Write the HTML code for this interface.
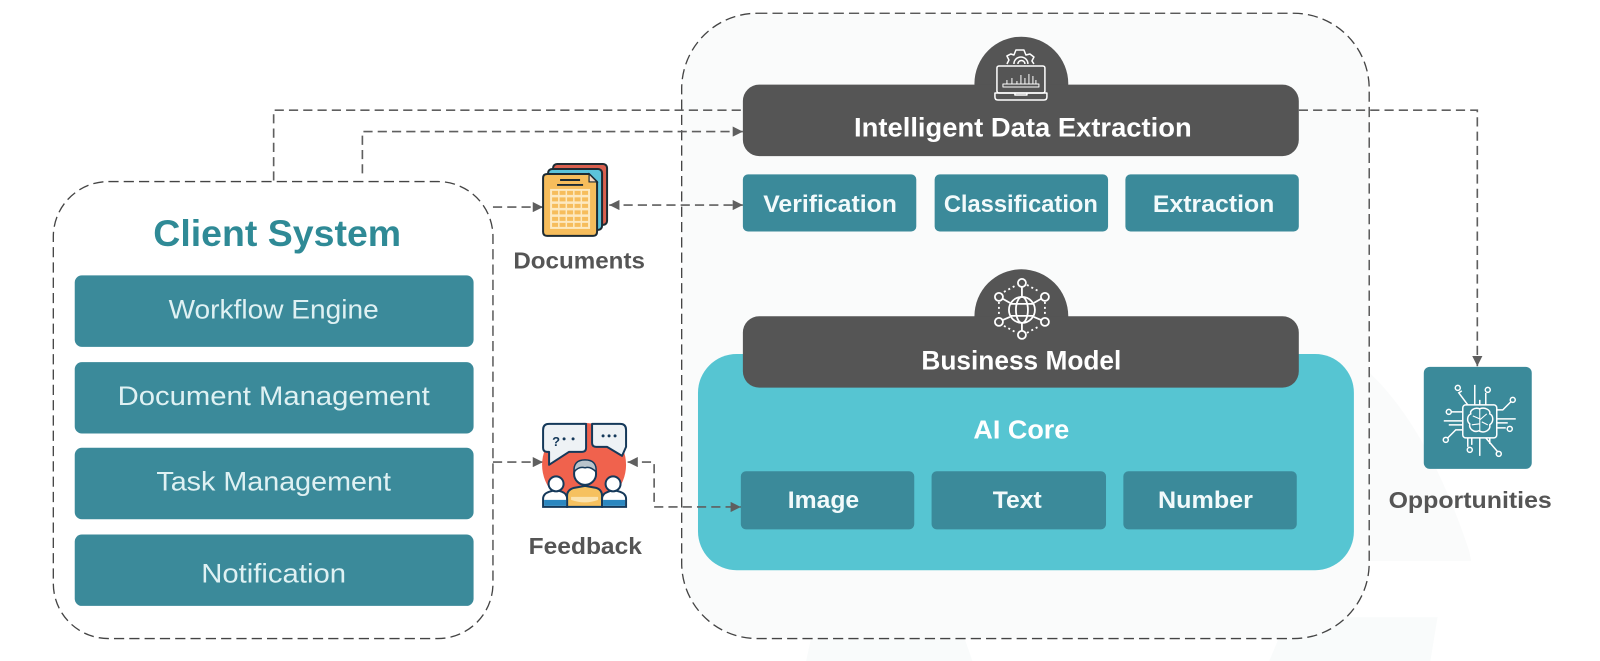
<!DOCTYPE html>
<html><head><meta charset="utf-8"><style>
html,body{margin:0;padding:0;background:#fff;width:1600px;height:661px;overflow:hidden}
svg{display:block}
text{font-family:"Liberation Sans",sans-serif}
.b{font-weight:700}
</style></head><body>
<svg width="1600" height="661" viewBox="0 0 1568 648" xmlns="http://www.w3.org/2000/svg">
<defs>
<marker id="a" viewBox="0 0 10 10" refX="10" refY="5" markerWidth="10" markerHeight="10" markerUnits="userSpaceOnUse" orient="auto-start-reverse"><path d="M0 0L10 5L0 10Z" fill="#5f5f5f"/></marker>
</defs>
<rect width="1568" height="648" fill="#fff"/>
<!-- faint background -->
<path d="M1342 365Q1400 420 1440 540L1442 550L1342 550Z" fill="#fafbfb"/>
<path d="M1244 648L1262 605H1409L1402 648Z" fill="#f9fbfb"/>
<path d="M790 648L795 625H945L953 648Z" fill="#f9fbfb"/>

<!-- containers -->
<rect x="668" y="13" width="674" height="613" rx="74" fill="#fafbfb" stroke="#444" stroke-width="1.300" stroke-dasharray="10 5"/>
<rect x="52" y="178" width="431" height="448" rx="54" fill="#fff" stroke="#444" stroke-width="1.300" stroke-dasharray="10 5"/>

<!-- connectors -->
<g fill="none" stroke="#5f5f5f" stroke-width="1.600" stroke-dasharray="9 5">
<path d="M268 177V108H728"/>
<path d="M355 170V129H728" marker-end="url(#a)"/>
<path d="M483 203H532" marker-end="url(#a)"/>
<path d="M597 201H728" marker-start="url(#a)" marker-end="url(#a)"/>
<path d="M483 453H532" marker-end="url(#a)"/>
<path d="M1273 108H1448V359" marker-end="url(#a)"/>
</g>

<!-- client system -->
<text x="150" y="241" font-size="36" class="b" fill="#2f8a96" textLength="243" lengthAdjust="spacingAndGlyphs">Client System</text>
<g fill="#3b8a9a">
<rect x="73" y="270" width="391" height="70" rx="7"/>
<rect x="73" y="355" width="391" height="70" rx="7"/>
<rect x="73" y="439" width="391" height="70" rx="7"/>
<rect x="73" y="524" width="391" height="70" rx="7"/>
</g>
<g font-size="26" fill="#dff1f3">
<text x="165" y="312" textLength="206" lengthAdjust="spacingAndGlyphs">Workflow Engine</text>
<text x="115" y="397" textLength="306" lengthAdjust="spacingAndGlyphs">Document Management</text>
<text x="153" y="481" textLength="230" lengthAdjust="spacingAndGlyphs">Task Management</text>
<text x="197" y="571" textLength="142" lengthAdjust="spacingAndGlyphs">Notification</text>
</g>

<!-- AI core -->
<rect x="684" y="347" width="643" height="212" rx="38" fill="#56c5d2"/>
<path d="M615 453H641V497H726" fill="none" stroke="#5f5f5f" stroke-width="1.600" stroke-dasharray="9 5" marker-start="url(#a)" marker-end="url(#a)"/>

<!-- domes and bars -->
<circle cx="1001" cy="82" r="46" fill="#555"/>
<circle cx="1001" cy="310" r="46" fill="#555"/>
<rect x="728" y="83" width="545" height="70" rx="16" fill="#555"/>
<rect x="728" y="310" width="545" height="70" rx="16" fill="#555"/>
<text x="837" y="134" font-size="26" class="b" fill="#fff" textLength="331" lengthAdjust="spacingAndGlyphs">Intelligent Data Extraction</text>
<text x="903" y="362" font-size="26" class="b" fill="#fff" textLength="196" lengthAdjust="spacingAndGlyphs">Business Model</text>

<g fill="#3b8a9a">
<rect x="728" y="171" width="170" height="56" rx="5"/>
<rect x="916" y="171" width="170" height="56" rx="5"/>
<rect x="1103" y="171" width="170" height="56" rx="5"/>
<rect x="726" y="462" width="170" height="57" rx="5"/>
<rect x="913" y="462" width="171" height="57" rx="5"/>
<rect x="1101" y="462" width="170" height="57" rx="5"/>
</g>
<g font-size="24" class="b" fill="#f2fafb">
<text x="748" y="208" textLength="131" lengthAdjust="spacingAndGlyphs">Verification</text>
<text x="925" y="208" textLength="151" lengthAdjust="spacingAndGlyphs">Classification</text>
<text x="1130" y="208" textLength="119" lengthAdjust="spacingAndGlyphs">Extraction</text>
<text x="772" y="498" textLength="70" lengthAdjust="spacingAndGlyphs">Image</text>
<text x="973" y="498" textLength="48" lengthAdjust="spacingAndGlyphs">Text</text>
<text x="1135" y="498" textLength="93" lengthAdjust="spacingAndGlyphs">Number</text>
</g>
<text x="954" y="430" font-size="25" class="b" fill="#fff" textLength="94" lengthAdjust="spacingAndGlyphs">AI Core</text>

<g font-size="23" class="b" fill="#555">
<text x="503" y="263" textLength="129" lengthAdjust="spacingAndGlyphs">Documents</text>
<text x="518" y="543" textLength="111" lengthAdjust="spacingAndGlyphs">Feedback</text>
<text x="1361" y="498" textLength="160" lengthAdjust="spacingAndGlyphs">Opportunities</text>
</g>

<!-- icons in real pixel coordinates -->
<g transform="scale(.98)">
<!-- documents -->
<g stroke="#1d2b33" stroke-width="2">
<rect x="553" y="164" width="54" height="61" rx="4" fill="#d9604f"/>
<rect x="548" y="169" width="54" height="61" rx="4" fill="#5cc3da"/>
<path d="M547 174H589L597 182V232Q597 236 593 236H547Q543 236 543 232V178Q543 174 547 174Z" fill="#f6bd5c"/>
<path d="M589 174V182H597Z" fill="#f4d8c4" stroke-width="1.200"/>
<path d="M560 180H580M557 185H583" stroke-width="2"/>
</g>
<rect x="550" y="189" width="40" height="40" fill="#fde9c0"/>
<g fill="#f6bd5c">
<path d="M552 191h6v4h-6zM559.500 191h6v4h-6zM567 191h6v4h-6zM574.500 191h6v4h-6zM582 191h6v4h-6z"/>
<path d="M552 197.500h6v4h-6zM559.500 197.500h6v4h-6zM567 197.500h6v4h-6zM574.500 197.500h6v4h-6zM582 197.500h6v4h-6z"/>
<path d="M552 204h6v4h-6zM559.500 204h6v4h-6zM567 204h6v4h-6zM574.500 204h6v4h-6zM582 204h6v4h-6z"/>
<path d="M552 210.500h6v4h-6zM559.500 210.500h6v4h-6zM567 210.500h6v4h-6zM574.500 210.500h6v4h-6zM582 210.500h6v4h-6z"/>
<path d="M552 217h6v4h-6zM559.500 217h6v4h-6zM567 217h6v4h-6zM574.500 217h6v4h-6zM582 217h6v4h-6z"/>
<path d="M552 223h6v4h-6zM559.500 223h6v4h-6zM567 223h6v4h-6zM574.500 223h6v4h-6zM582 223h6v4h-6z"/>
</g>

<!-- feedback -->
<circle cx="584" cy="465" r="42" fill="#f0624d"/>
<rect x="583" y="424" width="9" height="12" fill="#f0624d"/>
<g stroke="#15395a" stroke-width="2">
<path d="M549 424H586V448Q586 452 582 452H569L549 465V452H547Q543 452 543 448V430Q543 424 549 424Z" fill="#eef2f5" stroke-linejoin="round"/>
<path d="M592 424H620Q626 424 626 430V447L622 456L607 447H596Q592 447 592 443Z" fill="#eef2f5" stroke-linejoin="round"/>
<path d="M567 507V496Q567 490 574 488L585 486L596 488Q602 490 602 496V507Z" fill="#f6c15f"/>
<path d="M543 507V499Q543 494 549 492L556 490L562 492Q567 494 567 499V507Z" fill="#fff"/>
<path d="M602 507V499Q602 494 608 492L613 490L620 492Q626 494 626 499V507Z" fill="#fff"/>
<circle cx="556" cy="484" r="7.500" fill="#fff"/>
<circle cx="613" cy="484" r="7.500" fill="#fff"/>
<circle cx="585" cy="474" r="11" fill="#fff"/>
</g>
<path d="M574 472Q573 460 585 460Q597 460 596 472Q590 466 585 468Q579 466 574 472Z" fill="#b9c4cc" stroke="#15395a" stroke-width="1.500"/>
<path d="M571 497H598V500Q585 505 571 500Z" fill="#fbe3ae"/>
<path d="M544 500H566V506H544ZM603 500H625V506H603Z" fill="#2b87c0"/>
<text x="552" y="446" font-size="13" class="b" fill="#15395a">?</text>
<g fill="#15395a"><circle cx="564" cy="439" r="1.500"/><circle cx="573" cy="439" r="1.500"/><circle cx="603" cy="436" r="1.500"/><circle cx="609" cy="436" r="1.500"/><circle cx="615" cy="436" r="1.500"/></g>

<!-- laptop icon -->
<g fill="none" stroke="#fff" stroke-width="1.500" stroke-linejoin="round">
<rect x="997" y="66" width="48" height="27" rx="2"/>
<path d="M995 93H1047V97Q1047 100 1044 100H998Q995 100 995 97ZM1015 93V95H1027V93"/>
<path d="M1007 64L1009 60L1007 56L1011 54L1014 55L1016 50H1022L1024 50L1026 55L1030 54L1034 57L1032 61L1034 64"/>
<path d="M1014 64A7 7 0 0 1 1028 64M1018 64A3.500 3.500 0 0 1 1025 64"/>
<path d="M1003 84H1039V87H1003Z" stroke-width="1"/>
<path d="M1007 84V80M1012 84V78M1017 84V81M1021 84V75M1025 84V78M1029 84V74M1033 84V76M1036 84V80" stroke-width="1"/>
</g>

<!-- network icon -->
<g fill="none" stroke="#fff" stroke-width="1.800">
<circle cx="1022" cy="310" r="13"/>
<ellipse cx="1022" cy="310" rx="6" ry="13"/>
<path d="M1010 304H1034M1010 316H1034"/>
<path d="M1022 297V287M1022 323V331M1010 303L1003 299M1034 303L1041 299M1010 317L1003 320M1034 317L1041 320"/>
<circle cx="1022" cy="283" r="4"/><circle cx="999" cy="297" r="4"/><circle cx="1045" cy="297" r="4"/>
<circle cx="999" cy="322" r="4"/><circle cx="1045" cy="322" r="4"/><circle cx="1022" cy="335" r="4"/>
<path d="M1004 292L1017 285M1027 285L1040 292M999 302V317M1045 302V317M1004 326L1017 333M1027 333L1040 326" stroke-dasharray="2 3"/>
</g>

<!-- opportunities -->
<rect x="1424" y="367" width="108" height="102" rx="6" fill="#3b8a9a"/>
<g fill="none" stroke="#fff" stroke-width="1.500">
<rect x="1463" y="405" width="34" height="33" rx="3"/>
<path d="M1480 409C1474 407 1470 411 1471 414C1467 416 1467 422 1470 424C1469 429 1474 433 1479 431C1485 434 1491 430 1490 425C1494 422 1494 416 1490 414C1491 410 1485 407 1480 409Z"/>
<path d="M1480 409V431M1473 416L1480 419M1487 414L1480 420M1472 425L1480 424M1488 425L1482 422" stroke-width="1.100"/>
<path d="M1468 405L1459 393L1462 391M1475 405V385M1480 405V400M1486 405V393"/>
<path d="M1463 412H1451M1463 421H1444M1463 425H1449M1463 430H1456L1447 439"/>
<path d="M1497 410H1503L1511 402M1497 419H1516M1497 423H1508M1497 428H1506"/>
<path d="M1468 438V447M1472 438V445M1480 438V456M1486 438L1498 452M1490 438V444"/>
</g>
<g fill="#3b8a9a" stroke="#fff" stroke-width="1.500">
<circle cx="1458" cy="388" r="2.500"/><circle cx="1488" cy="390" r="2.500"/><circle cx="1513" cy="400" r="2.500"/>
<circle cx="1449" cy="412" r="2.500"/><circle cx="1510" cy="429" r="2.500"/><circle cx="1446" cy="440" r="2.500"/>
<circle cx="1470" cy="450" r="2.500"/><circle cx="1499" cy="454" r="2.500"/>
</g>
</g>
</svg>
</body></html>
